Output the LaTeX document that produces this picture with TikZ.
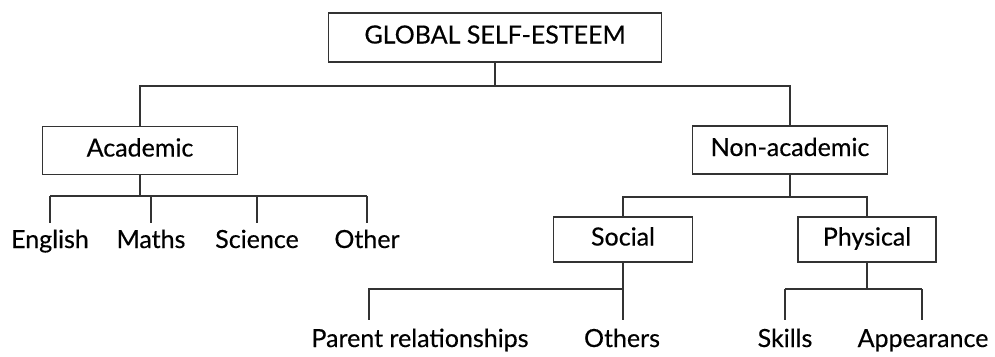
\documentclass[tikz,border=0pt]{standalone}
\usepackage{fontspec}
\setmainfont{Lato}[FakeBold=0.4]
\begin{document}
\begin{tikzpicture}[x=1pt,y=-1pt,
  conn/.style={draw=black!80, line width=1.8pt},
  box/.style={draw=black!80, line width=1.8pt, minimum width=#1, minimum height=48pt, inner sep=0pt, text height=18pt, text depth=6pt, font=\fontsize{25}{30}\selectfont},
  leaf/.style={anchor=base, inner sep=0pt, font=\fontsize{25}{30}\selectfont}]
\useasboundingbox (0,0) rectangle (995,356);
% boxes
\node[box=333pt, minimum height=49pt] (global) at (495,37.5) {GLOBAL SELF-ESTEEM};
\node[box=195pt] (academic) at (140,150.5) {Academic};
\node[box=195pt] (nonac) at (790,150) {Non-academic};
\node[box=139pt, minimum height=45pt] (social) at (623,239.5) {Social};
\node[box=138pt, minimum height=45pt] (physical) at (867,239.5) {Physical};
% leaves
\node[leaf] (english) at (50,248) {English};
\node[leaf] (maths) at (151,248) {Maths};
\node[leaf] (science) at (257,248) {Science};
\node[leaf] (other) at (367,248) {Other};
\node[leaf] (parent) at (420,347) {Parent relationships};
\node[leaf] (others) at (622,347) {Others};
\node[leaf] (skills) at (785,347) {Skills};
\node[leaf] (appear) at (923,347) {Appearance};
% coordinates
\coordinate (gbus) at (495,86);
\coordinate (abus) at (140,196);
\coordinate (nbus) at (790,197);
\coordinate (sbus) at (623,289);
\coordinate (pbus) at (867,289);
\coordinate (prtop) at (369,320);
\coordinate (ottop) at (623,320);
\coordinate (sktop) at (785,320);
\coordinate (aptop) at (922,320);
% connectors
\draw[conn] (global.south) -- (gbus);
\draw[conn] (academic.north) -- (academic.north |- gbus) -- (nonac.north |- gbus) -- (nonac.north);
\draw[conn] (academic.south) -- (abus);
\draw[conn] (english.north |- abus) -- (other.north |- abus);
\draw[conn] (english.north |- abus) -- (english.north |- 0,223);
\draw[conn] (maths.north |- abus) -- (maths.north |- 0,223);
\draw[conn] (science.north |- abus) -- (science.north |- 0,223);
\draw[conn] (other.north |- abus) -- (other.north |- 0,223);
\draw[conn] (nonac.south) -- (nbus);
\draw[conn] (social.north) -- (social.north |- nbus) -- (physical.north |- nbus) -- (physical.north);
\draw[conn] (social.south) -- (sbus) -- (prtop |- sbus) -- (prtop);
\draw[conn] (sbus) -- (ottop);
\draw[conn] (physical.south) -- (pbus);
\draw[conn] (sktop |- pbus) -- (aptop |- pbus);
\draw[conn] (sktop |- pbus) -- (sktop);
\draw[conn] (aptop |- pbus) -- (aptop);
\end{tikzpicture}
\end{document}
